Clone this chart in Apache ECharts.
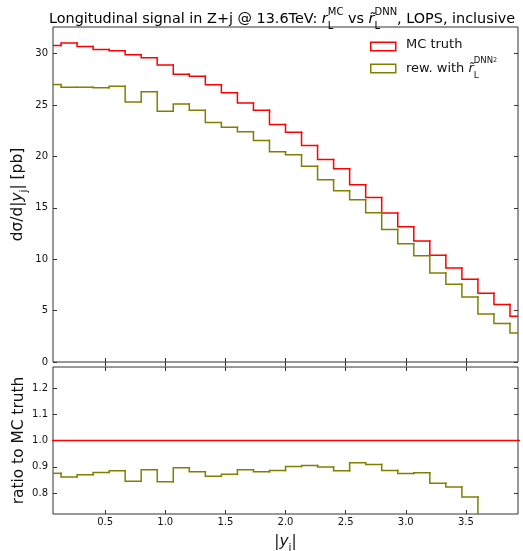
<!DOCTYPE html>
<html><head><meta charset="utf-8">
<script src="https://cdn.jsdelivr.net/npm/echarts@6/dist/echarts.min.js"></script>
<style>html,body{margin:0;padding:0;background:#fff}#c{width:523px;height:551px}</style>
</head><body><div id="c"></div>
<script>
// bin edges of |y_j| (30 bins)
const binEdges = [0, 0.1333, 0.2667, 0.4, 0.5333, 0.6667, 0.8, 0.9333, 1.0667, 1.2, 1.3333,
  1.4667, 1.6, 1.7333, 1.8667, 2.0, 2.1333, 2.2667, 2.4, 2.5333, 2.6667,
  2.8, 2.9333, 3.0667, 3.2, 3.3333, 3.4667, 3.6, 3.7333, 3.8667, 4.0];
// dσ/d|y_j| [pb]
const mcTruth = [30.8, 31.05, 30.7, 30.4, 30.3, 29.9, 29.6, 28.9, 28.0, 27.8,
  26.97, 26.2, 25.2, 24.5, 23.1, 22.35, 21.07, 19.7, 18.8, 17.25,
  16.0, 14.5, 13.17, 11.77, 10.38, 9.15, 8.05, 6.69, 5.59, 4.45];
const rewDNN = [27.0, 26.74, 26.74, 26.7, 26.83, 25.3, 26.3, 24.4, 25.1, 24.5,
  23.3, 22.85, 22.4, 21.55, 20.47, 20.16, 19.06, 17.73, 16.67, 15.8,
  14.53, 12.9, 11.5, 10.35, 8.66, 7.56, 6.33, 4.67, 3.74, 2.83];
// ratio to MC truth
const ratioMC = [1, 1, 1, 1, 1, 1, 1, 1, 1, 1, 1, 1, 1, 1, 1, 1, 1, 1, 1, 1, 1, 1, 1, 1, 1, 1, 1, 1, 1, 1];
const ratioRew = [0.875, 0.861, 0.870, 0.878, 0.885, 0.845, 0.889, 0.843, 0.896, 0.881,
  0.864, 0.871, 0.889, 0.881, 0.886, 0.901, 0.905, 0.899, 0.885, 0.915,
  0.909, 0.886, 0.874, 0.877, 0.837, 0.823, 0.785, 0.698, 0.669, 0.636];
// tick values
const xTicks = [0.5, 1.0, 1.5, 2.0, 2.5, 3.0, 3.5];
const yTicksTop = [0, 5, 10, 15, 20, 25, 30];
const yTicksBottom = [0.8, 0.9, 1.0, 1.1, 1.2];

const FONT = 'DejaVu Sans';
const FRAME = '#333';
const RED = '#ff0000';
const OLIVE = '#808000';

// each bin: [left edge, right edge, value, previous bin value]
function binItems(vals) {
  return vals.map((v, i) => [binEdges[i], binEdges[i + 1], v, i > 0 ? vals[i - 1] : v]);
}
function stepSeries(name, vals, color, axisIdx) {
  return {
    name: name, type: 'custom', xAxisIndex: axisIdx, yAxisIndex: axisIdx, clip: true,
    encode: {x: [0, 1], y: [2, 3]},
    data: binItems(vals),
    renderItem: function (params, api) {
      const xl = api.value(0), xr = api.value(1), v = api.value(2), pv = api.value(3);
      const cs = params.coordSys;
      const pts = pv === v ? [api.coord([xl, v]), api.coord([xr, v])]
                           : [api.coord([xl, pv]), api.coord([xl, v]), api.coord([xr, v])];
      return {
        type: 'group',
        clipPath: {type: 'rect', shape: {x: cs.x, y: cs.y, width: cs.width, height: cs.height}},
        children: [{
          type: 'polyline',
          shape: {points: pts},
          style: {stroke: color, lineWidth: 1.5, fill: null, lineJoin: 'miter', lineCap: 'square'}
        }]
      };
    }
  };
}
function tick(values) {
  return {show: true, inside: true, length: 4, customValues: values, lineStyle: {color: FRAME, width: 1}};
}
function xAx(grid, pos, labels, extra) {
  return Object.assign({
    type: 'value', gridIndex: grid, position: pos, min: 0.0667, max: 3.9333,
    axisLine: {show: false}, splitLine: {show: false}, axisTick: tick(xTicks),
    axisLabel: {show: labels, customValues: xTicks, margin: 3, fontSize: 10, fontFamily: FONT, color: '#111',
      formatter: v => v.toFixed(1)}
  }, extra || {});
}
function yAx(grid, pos, labels, mn, mx, ticks, fmt, extra) {
  return Object.assign({
    type: 'value', gridIndex: grid, position: pos, min: mn, max: mx,
    axisLine: {show: false}, splitLine: {show: false}, axisTick: tick(ticks),
    axisLabel: {show: labels, customValues: ticks, margin: 5, fontSize: 10, fontFamily: FONT, color: '#111',
      formatter: fmt}
  }, extra || {});
}
const nameRich = {
  i: {fontFamily: FONT, fontStyle: 'italic', fontSize: 15.4, lineHeight: 24, color: '#111'},
  sub: {fontFamily: FONT, fontSize: 10.5, lineHeight: 14, verticalAlign: 'bottom', color: '#111'},
  n: {fontFamily: FONT, fontSize: 15.4, lineHeight: 24, color: '#111'}
};

const option = {
  animation: false,
  backgroundColor: '#fff',
  title: {
    text: '{n|Longitudinal signal in Z+j @ 13.6TeV: }{i|r}{sub|L}{sup|MC}{n| vs }{i|r\u0303}{sub|L}{sup|DNN}{n|, LOPS, inclusive}',
    left: 44, top: 2,
    textStyle: {
      fontFamily: FONT, fontSize: 14.4, fontWeight: 'normal', color: '#000',
      rich: {
        n: {fontFamily: FONT, fontSize: 14.4, lineHeight: 24, color: '#000'},
        i: {fontFamily: FONT, fontStyle: 'italic', fontSize: 14.4, lineHeight: 24, color: '#000'},
        sub: {fontFamily: FONT, fontSize: 10, lineHeight: 13, verticalAlign: 'bottom', width: 0, color: '#000'},
        sup: {fontFamily: FONT, fontSize: 10, lineHeight: 15, verticalAlign: 'top', color: '#000'}
      }
    }
  },
  grid: [
    {left: 53, right: 5, top: 27, height: 335, show: true, borderColor: FRAME, borderWidth: 1,
      backgroundColor: 'transparent', containLabel: false, outerBoundsMode: 'none'},
    {left: 53, right: 5, top: 367, height: 147, show: true, borderColor: FRAME, borderWidth: 1,
      backgroundColor: 'transparent', containLabel: false, outerBoundsMode: 'none'}
  ],
  xAxis: [
    xAx(0, 'bottom', false),
    xAx(0, 'top', false),
    xAx(1, 'bottom', true, {
      name: '|{i|y}{sub|j}|', nameLocation: 'middle', nameGap: 16, nameMoveOverlap: false,
      nameTextStyle: {fontFamily: FONT, fontSize: 15.4, color: '#111', lineHeight: 24, rich: nameRich}
    }),
    xAx(1, 'top', false)
  ],
  yAxis: [
    yAx(0, 'left', true, 0, 32.6, yTicksTop, v => String(v), {
      name: 'dσ/d|{i|y}{sub|j}| [pb]', nameLocation: 'middle', nameGap: 23, nameRotate: 90, nameMoveOverlap: false,
      nameTextStyle: {fontFamily: FONT, fontSize: 15.4, color: '#111', lineHeight: 24, rich: nameRich}
    }),
    yAx(0, 'right', false, 0, 32.6, yTicksTop, v => String(v)),
    yAx(1, 'left', true, 0.72, 1.28, yTicksBottom, v => v.toFixed(1), {
      name: '{n|ratio to MC truth}', nameLocation: 'middle', nameGap: 22, nameRotate: 90, nameMoveOverlap: false,
      nameTextStyle: {fontFamily: FONT, fontSize: 15.4, color: '#111', lineHeight: 24, rich: nameRich}
    }),
    yAx(1, 'right', false, 0.72, 1.28, yTicksBottom, v => v.toFixed(1))
  ],
  series: [
    stepSeries('MC truth', mcTruth, RED, 0),
    stepSeries('rew', rewDNN, OLIVE, 0),
    {name: 'MC ratio', type: 'line', xAxisIndex: 2, yAxisIndex: 2, step: 'end', symbol: 'none', showSymbol: false,
      data: ratioMC.map((v, i) => [binEdges[i], v]).concat([[binEdges[30], ratioMC[29]]]),
      lineStyle: {color: RED, width: 1.5}, itemStyle: {color: RED}, clip: true},
    stepSeries('rew ratio', ratioRew, OLIVE, 2)
  ],
  graphic: [
    {type: 'rect', left: 370, top: 41.5, shape: {width: 25, height: 8.5},
      style: {fill: '#fff', stroke: RED, lineWidth: 1.5}},
    {type: 'text', left: 406, top: 38.5,
      style: {text: 'MC truth', font: '13px "DejaVu Sans"', fill: '#111'}},
    {type: 'rect', left: 370, top: 63.5, shape: {width: 25, height: 8.5},
      style: {fill: '#fff', stroke: OLIVE, lineWidth: 1.5}},
    {type: 'text', left: 406, top: 56.5,
      style: {
        text: '{n|rew. with }{i|r\u0303}{sub|L}{sup|DNN}{sup2|2}',
        rich: {
          n: {fontFamily: FONT, fontSize: 13, lineHeight: 24, fill: '#111'},
          i: {fontFamily: FONT, fontStyle: 'italic', fontSize: 13, lineHeight: 24, fill: '#111'},
          sub: {fontFamily: FONT, fontSize: 9, lineHeight: 12, verticalAlign: 'bottom', width: 0, fill: '#111'},
          sup: {fontFamily: FONT, fontSize: 8.5, lineHeight: 12, verticalAlign: 'top', fill: '#111'},
          sup2: {fontFamily: FONT, fontSize: 6.5, lineHeight: 17, verticalAlign: 'top', fill: '#111'}
        }
      }}
  ]
};
const chart = echarts.init(document.getElementById('c'));
chart.setOption(option);
</script>
</body></html>
